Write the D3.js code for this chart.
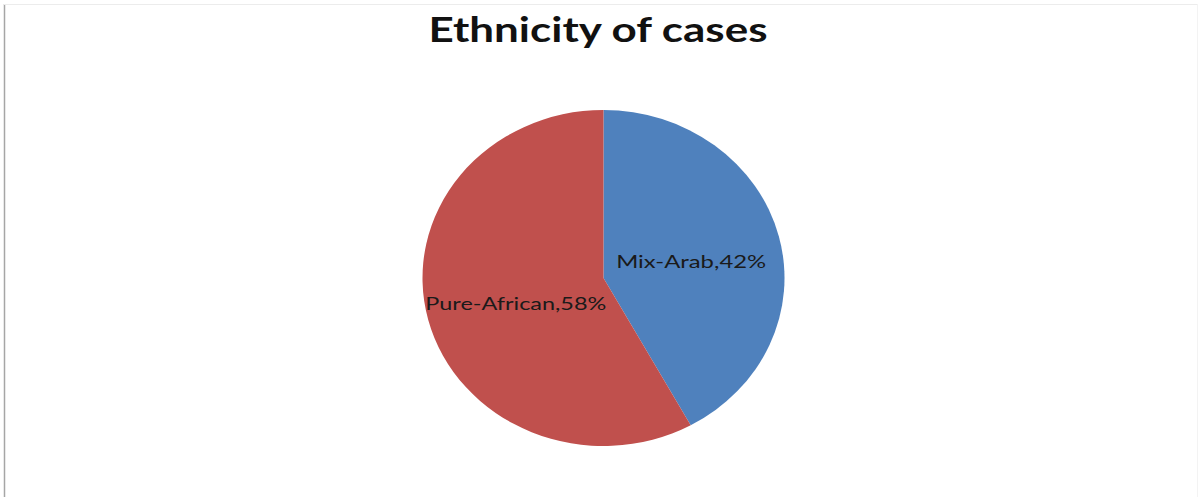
<!DOCTYPE html>
<html>
<head>
<meta charset="utf-8">
<script src="https://cdn.jsdelivr.net/npm/d3@7"></script>
<style>
  html, body { margin: 0; padding: 0; background: #fff; }
  svg { display: block; }
</style>
</head>
<body>
<svg id="chart" width="1201" height="500"></svg>
<script>
// Ethnicity breakdown of cases
const categories = ["Mix-Arab", "Pure-African"];
const percents = [42, 58];
const sliceColors = ["#4F81BD", "#C0504D"];
const chartTitle = "Ethnicity of cases";

const svg = d3.select("#chart");

// frame lines
svg.append("line").attr("x1", 4.5).attr("x2", 4.5).attr("y1", 4).attr("y2", 497)
  .attr("stroke", "#a6a6a6").attr("stroke-width", 1.5);
svg.append("line").attr("x1", 4).attr("x2", 1197).attr("y1", 4.5).attr("y2", 4.5)
  .attr("stroke", "#ececec").attr("stroke-width", 1);
svg.append("line").attr("x1", 1197.5).attr("x2", 1197.5).attr("y1", 4).attr("y2", 497)
  .attr("stroke", "#f3f3f3").attr("stroke-width", 1);

// title
svg.append("text")
  .attr("x", 598).attr("y", 42)
  .attr("text-anchor", "middle")
  .attr("font-family", "Lato, 'Open Sans', sans-serif")
  .attr("font-weight", "bold")
  .attr("font-size", 34)
  .attr("fill", "#111")
  .attr("textLength", 339)
  .attr("lengthAdjust", "spacingAndGlyphs")
  .text(chartTitle);

// pie geometry (slightly wider than tall)
const cx = 603.5, cy = 278, rx = 181, ry = 168;
const data = categories.map((c, i) => ({ name: c, value: percents[i], color: sliceColors[i] }));

const pie = d3.pie().value(d => d.value).sort(null);
const arcs = pie(data);
const arc = d3.arc().innerRadius(0).outerRadius(rx);

const g = svg.append("g")
  .attr("transform", `translate(${cx},${cy}) scale(1,${ry / rx})`);

g.selectAll("path")
  .data(arcs)
  .join("path")
  .attr("d", arc)
  .attr("fill", d => d.data.color);

// labels at half radius along each slice's mid angle
const labelArc = d3.arc().innerRadius(rx * 0.5).outerRadius(rx * 0.5);
const labelWidths = [150, 181];

svg.selectAll("text.lbl")
  .data(arcs)
  .join("text")
  .attr("class", "lbl")
  .attr("x", d => cx + labelArc.centroid(d)[0])
  .attr("y", d => cy + labelArc.centroid(d)[1] * (ry / rx) + 4)
  .attr("text-anchor", "middle")
  .attr("dominant-baseline", "central")
  .attr("font-family", "Lato, 'Open Sans', sans-serif")
  .attr("font-size", 18)
  .attr("fill", "#1a1a1a")
  .attr("textLength", (d, i) => labelWidths[i])
  .attr("lengthAdjust", "spacingAndGlyphs")
  .text(d => `${d.data.name},${d.data.value}%`);
</script>
</body>
</html>
